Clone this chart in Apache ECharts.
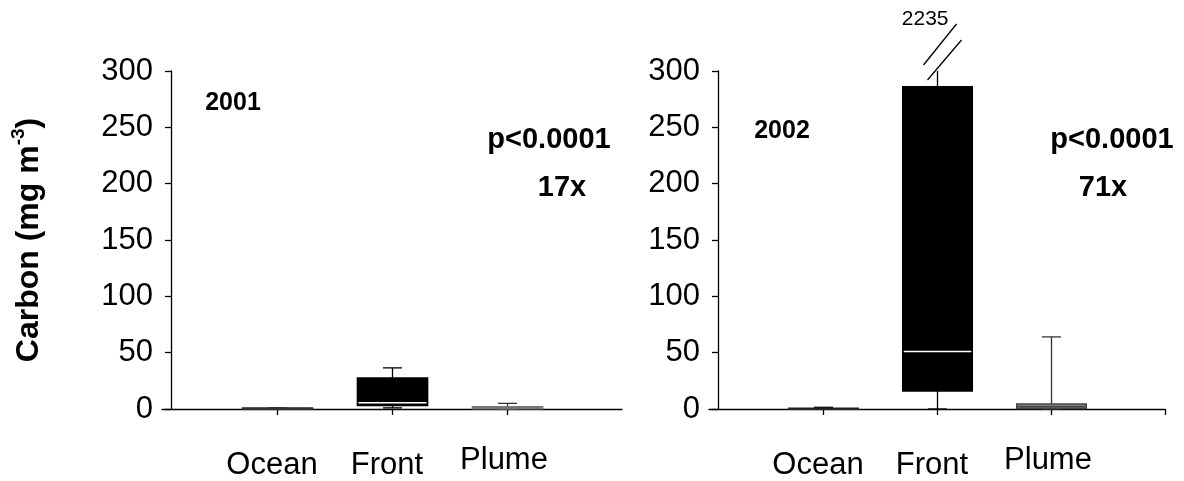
<!DOCTYPE html>
<html><head><meta charset="utf-8">
<script src="https://cdn.jsdelivr.net/npm/echarts@6/dist/echarts.min.js"></script>
<style>html,body{margin:0;padding:0;background:#fff}#c{width:1184px;height:481px}</style>
</head><body><div id="c"></div>
<script>
// ---- data ----
const categories = ['Ocean', 'Front', 'Plume'];
const yMin = 0, yMax = 300, yStep = 50;
// box statistics per category: [min, q1, median, q3, max]
const box2001 = [[0, 0.1, 0.4, 0.8, 1], [1, 3, 5.5, 27.5, 36.5], [0, 0.2, 1.2, 2, 5]];
const box2002 = [[0, 0.1, 0.3, 0.6, 1.5], [0, 16, 51, 286, 2235], [0, 0.5, 2, 4.5, 64]];
const yearLabels = ['2001', '2002'];
const pLabels = ['p<0.0001', 'p<0.0001'];
const foldLabels = ['17x', '71x'];
const yAxisTitle = ['Carbon (mg m', '-3', ')'];

// ---- styles ----
const fill2001 = ['#444', '#000', '#fff'];
const stroke2001 = ['#333', '#000', '#777'];
const fill2002 = ['#333', '#000', '#808080'];
const stroke2002 = ['#222', '#000', '#444'];
const FONT = 'Liberation Sans, Arial, Helvetica, sans-serif';

function makeRender(fills, strokes) {
  return function (params, api) {
    const x = api.value(0);
    const v = [1, 2, 3, 4, 5].map(i => api.value(i));
    const idx = params.dataIndex;
    const py = val => api.coord([x, Math.min(val, yMax)])[1];
    const cx = Math.round(api.coord([x, 0])[0]) + 0.5;
    const hw = api.size([0.61, 0])[0] / 2;
    const capW = 9.5;
    const kids = [];
    const lineStyle = { stroke: idx === 2 ? '#333' : '#000', lineWidth: 1.3 };
    // upper whisker
    kids.push({ type: 'line', shape: { x1: cx, y1: py(v[3]), x2: cx, y2: py(v[4]) }, style: lineStyle });
    if (v[4] <= yMax) {
      kids.push({ type: 'line', shape: { x1: cx - capW, y1: py(v[4]), x2: cx + capW, y2: py(v[4]) }, style: lineStyle });
    } else {
      const t = py(yMax);
      kids.push({ type: 'line', shape: { x1: cx - 14, y1: t - 6, x2: cx + 19, y2: t - 47 }, style: { stroke: '#000', lineWidth: 1.3 } });
      kids.push({ type: 'line', shape: { x1: cx - 10, y1: t + 9, x2: cx + 24, y2: t - 31 }, style: { stroke: '#000', lineWidth: 1.3 } });
      kids.push({ type: 'text', style: { x: cx + 11, y: t - 41, text: String(v[4]), font: '21px ' + FONT, fill: '#000', align: 'right', verticalAlign: 'bottom' } });
    }
    // lower whisker
    kids.push({ type: 'line', shape: { x1: cx, y1: py(v[1]), x2: cx, y2: py(v[0]) }, style: lineStyle });
    kids.push({ type: 'line', shape: { x1: cx - capW, y1: py(v[0]), x2: cx + capW, y2: py(v[0]) }, style: lineStyle });
    // box
    const top = py(v[3]), bot = py(v[1]);
    kids.push({ type: 'rect', shape: { x: cx - hw, y: top, width: 2 * hw, height: Math.max(bot - top, 1) },
      style: { fill: fills[idx], stroke: strokes[idx], lineWidth: 1.5 } });
    // median
    kids.push({ type: 'line', shape: { x1: cx - hw + 1, y1: py(v[2]), x2: cx + hw - 1, y2: py(v[2]) },
      style: { stroke: fills[idx] === '#000' ? '#fff' : strokes[idx], lineWidth: 1.5 } });
    return { type: 'group', children: kids };
  };
}

function toItems(box) { return box.map((b, i) => [i + 1].concat(b)); }

const grids = [
  { left: 162, top: 71, width: 460, height: 338, containLabel: false, outerBoundsMode: 'none' },
  { left: 709, top: 71, width: 456, height: 338, containLabel: false, outerBoundsMode: 'none' }
];

function xAxisFor(gi, tickVals) {
  return {
    gridIndex: gi, type: 'value', min: 0, max: 4, interval: 1,
    splitLine: { show: false },
    axisLine: { onZero: false, lineStyle: { color: '#000', width: 1.3 } },
    axisTick: { customValues: tickVals, length: 6, lineStyle: { color: '#000', width: 1.3 } },
    axisLabel: {
      customValues: [1, 2, 3], margin: 38, color: '#000',
      formatter: v => (v === 3 ? '{p|' : '{n|') + categories[v - 1] + '}',
      rich: {
        n: { fontFamily: FONT, fontSize: 31, color: '#000', lineHeight: 36, padding: [0, 10, 0, 0] },
        p: { fontFamily: FONT, fontSize: 31, color: '#000', lineHeight: 36, padding: [0, 6, 9, 0] }
      }
    }
  };
}

function yAxisFor(gi, withName) {
  const ax = {
    gridIndex: gi, type: 'value', min: yMin, max: yMax, interval: yStep, offset: -9,
    splitLine: { show: false },
    axisLine: { show: true, onZero: false, lineStyle: { color: '#000', width: 1.3 } },
    axisTick: { show: true, length: 6, lineStyle: { color: '#000', width: 1.3 } },
    axisLabel: { margin: 18, color: '#000', fontFamily: FONT, fontSize: 31 }
  };
  if (withName) {
    ax.name = '{a|' + yAxisTitle[0] + '}{s|' + yAxisTitle[1] + '}{a|' + yAxisTitle[2] + '}';
    ax.nameLocation = 'middle';
    ax.nameRotate = 90;
    ax.nameGap = 126;
    ax.nameTextStyle = {
      rich: {
        a: { fontFamily: FONT, fontSize: 32, fontWeight: 'bold', color: '#000', verticalAlign: 'bottom', lineHeight: 36 },
        s: { fontFamily: FONT, fontSize: 19, fontWeight: 'bold', color: '#000', verticalAlign: 'top', lineHeight: 36 }
      }
    };
  }
  return ax;
}

const txt = (t, x, y, size) => ({
  type: 'text', x: x, y: y,
  style: { text: t, font: 'bold ' + size + 'px ' + FONT, fill: '#000', align: 'center', verticalAlign: 'middle' }
});

const option = {
  animation: false,
  backgroundColor: '#fff',
  grid: grids,
  xAxis: [xAxisFor(0, [1, 2, 3]), xAxisFor(1, [1, 2, 3, 4])],
  yAxis: [yAxisFor(0, true), yAxisFor(1, false)],
  series: [
    { type: 'custom', xAxisIndex: 0, yAxisIndex: 0, clip: false, data: toItems(box2001),
      encode: { x: 0, y: [1, 2, 3, 4, 5] }, renderItem: makeRender(fill2001, stroke2001) },
    { type: 'custom', xAxisIndex: 1, yAxisIndex: 1, clip: false, data: toItems(box2002),
      encode: { x: 0, y: [1, 2, 3, 4, 5] }, renderItem: makeRender(fill2002, stroke2002) }
  ],
  graphic: [
    txt(yearLabels[0], 233, 103, 25),
    txt(pLabels[0], 549, 140, 29),
    txt(foldLabels[0], 562, 188, 29),
    txt(yearLabels[1], 782, 131, 25),
    txt(pLabels[1], 1112, 140, 29),
    txt(foldLabels[1], 1103, 188, 29)
  ]
};

const chart = echarts.init(document.getElementById('c'), null, { renderer: 'canvas' });
chart.setOption(option);
</script>
</body></html>
